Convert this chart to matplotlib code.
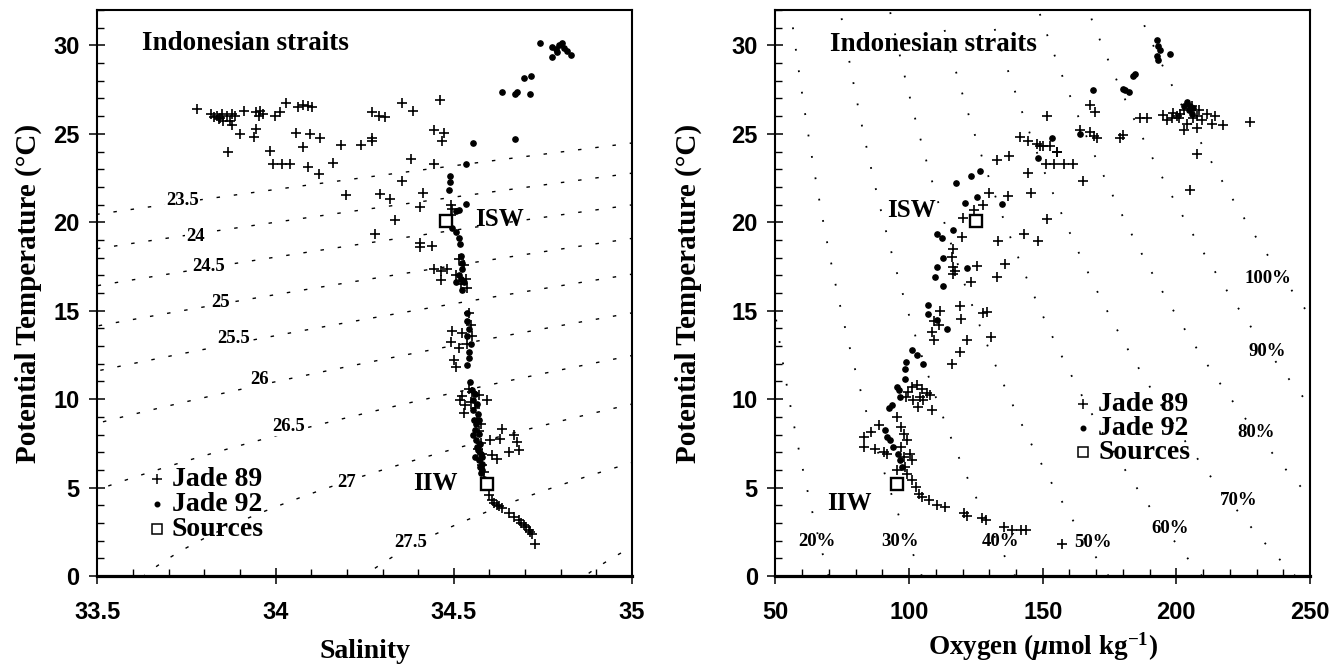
import numpy as np
import matplotlib
matplotlib.use("Agg")
import matplotlib.pyplot as plt
from matplotlib.ticker import MultipleLocator

# ---- data ---------------------------------------------------------------
# T-S panel, Jade 89 (+): salinity, potential temperature
ts89_s = [33.780, 33.818, 33.835, 33.849, 33.863, 33.877, 33.886, 33.840, 33.853, 33.872,
          33.877, 33.845, 33.828, 33.912, 33.944, 33.956, 33.966, 33.952, 33.999, 34.011,
          34.030, 34.064, 34.078, 34.092, 34.102, 33.900, 33.944, 33.940, 33.865, 33.985,
          33.994, 34.017, 34.041, 34.058, 34.097, 34.125, 34.076, 34.092, 34.123, 34.161,
          34.183, 34.239, 34.270, 34.270, 34.270, 34.289, 34.307, 34.354, 34.385, 34.380,
          34.354, 34.198, 34.292, 34.322, 34.336, 34.413, 34.406, 34.279, 34.406, 34.406,
          34.461, 34.444, 34.472, 34.467, 34.444, 34.491, 34.495, 34.491, 34.439, 34.444,
          34.463, 34.481, 34.463, 34.514, 34.528, 34.507, 34.533, 34.537, 34.519, 34.495,
          34.491, 34.505, 34.514, 34.523, 34.542, 34.547, 34.551, 34.537, 34.500, 34.542,
          34.551, 34.523, 34.547, 34.518, 34.570, 34.593, 34.528, 34.532, 34.635, 34.631,
          34.668, 34.678, 34.682, 34.654, 34.607, 34.621, 34.603, 34.560, 34.565, 34.570,
          34.575, 34.578, 34.580, 34.585, 34.575, 34.568, 34.598, 34.607, 34.621, 34.635,
          34.654, 34.668, 34.682, 34.696, 34.710, 34.720, 34.729, 34.689, 34.703, 34.715,
          34.628, 34.614]
ts89_t = [26.39, 26.11, 26.02, 26.11, 26.02, 26.11, 26.02, 25.83, 25.73, 25.73,
          25.51, 25.92, 25.95, 26.30, 26.21, 26.30, 26.11, 26.02, 26.02, 26.21,
          26.77, 26.51, 26.63, 26.57, 26.51, 24.98, 25.30, 24.83, 23.95, 24.04,
          23.29, 23.29, 23.29, 25.03, 25.01, 24.79, 24.23, 23.10, 22.72, 23.33,
          24.38, 24.38, 24.79, 24.60, 26.26, 26.02, 25.96, 26.77, 26.30, 23.57,
          22.35, 21.54, 21.60, 21.31, 20.15, 21.64, 20.88, 19.34, 18.81, 18.59,
          26.90, 25.21, 25.05, 24.58, 23.31, 20.99, 20.76, 20.42, 18.67, 17.36,
          17.25, 17.36, 16.71, 17.90, 17.58, 17.03, 16.81, 16.27, 16.49, 13.87,
          13.22, 11.80, 12.89, 13.76, 14.85, 14.20, 13.55, 13.11, 12.24, 10.60,
          10.39, 10.17, 9.84, 9.93, 10.21, 9.93, 9.20, 9.65, 8.33, 7.77,
          7.96, 7.58, 7.11, 7.01, 6.83, 6.64, 7.67, 9.50, 8.90, 8.20,
          7.50, 6.90, 6.30, 5.90, 8.60, 7.20, 4.57, 4.29, 4.01, 3.82,
          3.54, 3.35, 3.16, 2.88, 2.60, 2.37, 1.81, 3.00, 2.75, 2.50,
          3.95, 4.15]

# T-S panel, Jade 92 (dots)
ts92_s = [34.743, 34.776, 34.786, 34.795, 34.809, 34.818, 34.828, 34.776, 34.790, 34.804,
          34.697, 34.717, 34.636, 34.678, 34.673, 34.715, 34.673, 34.554, 34.533, 34.489,
          34.489, 34.486, 34.505, 34.514, 34.533, 34.495, 34.505, 34.514, 34.517, 34.519,
          34.523, 34.523, 34.514, 34.519, 34.528, 34.505, 34.523, 34.537, 34.537, 34.542,
          34.537, 34.547, 34.542, 34.542, 34.537, 34.546, 34.551, 34.555, 34.553, 34.557,
          34.560, 34.563, 34.567, 34.570, 34.573, 34.576, 34.584, 34.560, 34.565, 34.567,
          34.563, 34.570, 34.573, 34.575, 34.578, 34.580, 34.555, 34.565, 34.560, 34.580,
          34.570]
ts92_t = [30.14, 29.90, 29.79, 30.02, 29.84, 29.68, 29.44, 29.33, 29.60, 30.14,
          28.17, 28.29, 27.36, 27.36, 27.24, 27.24, 24.70, 24.47, 23.31, 22.61,
          22.27, 21.80, 20.65, 20.72, 21.06, 19.65, 19.43, 19.10, 18.77, 18.12,
          17.69, 17.36, 17.03, 16.81, 16.60, 16.60, 16.16, 14.85, 14.42, 13.98,
          13.55, 13.11, 12.67, 12.35, 11.91, 10.97, 10.50, 9.93, 9.37, 8.80,
          8.24, 7.67, 7.11, 6.55, 6.17, 5.80, 5.51, 10.31, 9.74, 9.18,
          8.62, 8.05, 7.49, 6.92, 6.36, 5.98, 7.96, 7.30, 6.73, 6.73,
          8.80]

# T-O2 panel, Jade 89 (+): oxygen (umol/kg), potential temperature
to89_o = [151.5, 141.4, 144.6, 147.7, 150.2, 155.2, 132.9, 137.5, 144.6, 151.5,
          130.0, 136.9, 145.6, 148.1, 143.1, 127.8, 124.3, 120.3, 119.7, 133.4,
          135.9, 132.8, 116.3, 115.9, 116.6, 116.6, 117.2, 125.5, 123.1, 119.0,
          119.6, 129.0, 127.8, 111.6, 109.2, 108.6, 111.0, 130.7, 119.0, 115.9,
          109.2, 121.5, 100.9, 102.8, 104.9, 106.8, 99.0, 101.5, 103.4, 105.3,
          107.7, 99.6, 103.9, 108.5, 88.7, 85.6, 83.1, 83.1, 87.4, 90.5,
          91.8, 95.5, 96.8, 98.0, 99.3, 96.8, 100.5, 98.0, 98.6, 99.3,
          95.5, 101.2, 101.2, 102.4, 103.7, 104.9, 107.4, 110.5, 113.6, 120.5,
          121.7, 127.4, 128.6, 135.5, 138.6, 141.7, 143.6, 157.1, 149.0, 152.7,
          155.4, 151.2, 154.3, 158.0, 161.2, 165.2, 167.7, 169.6, 163.9, 167.7,
          169.0, 170.2, 178.9, 180.1, 186.4, 188.9, 194.9, 196.4, 198.3, 200.2,
          201.4, 207.6, 211.4, 214.5, 217.6, 227.6, 202.7, 207.6, 207.6, 205.2,
          200.8, 198.9, 203.9, 206.4, 209.5, 213.3, 205.8, 208.3, 202.7]
to89_t = [26.02, 24.80, 24.60, 24.40, 24.30, 24.00, 23.50, 23.75, 22.76, 20.18,
          21.63, 21.50, 21.63, 18.94, 19.33, 20.98, 20.67, 20.22, 19.14, 18.94,
          17.62, 16.91, 18.50, 18.06, 17.46, 17.08, 17.23, 17.55, 16.61, 15.24,
          14.54, 14.92, 14.88, 15.00, 14.40, 13.80, 14.20, 13.50, 12.66, 11.96,
          13.32, 13.32, 10.70, 10.78, 10.60, 10.33, 10.12, 9.93, 9.55, 9.93,
          10.22, 10.40, 10.12, 9.40, 8.52, 8.14, 7.86, 7.29, 7.20, 7.02,
          6.92, 8.99, 8.42, 8.05, 7.67, 7.29, 6.92, 6.73, 6.17, 5.79,
          5.98, 6.55, 5.41, 5.04, 4.66, 4.48, 4.29, 4.01, 3.91, 3.54,
          3.39, 3.26, 3.16, 2.79, 2.60, 2.60, 2.60, 1.80, 24.30, 24.30,
          23.99, 23.31, 23.31, 23.31, 23.31, 22.36, 26.64, 26.24, 25.23, 25.11,
          24.89, 24.77, 24.77, 24.93, 25.90, 25.90, 26.06, 25.79, 25.90, 26.01,
          26.13, 26.01, 26.13, 26.01, 25.52, 25.68, 25.23, 25.34, 23.87, 21.85,
          25.90, 26.20, 25.56, 25.90, 25.79, 25.56, 26.58, 26.35, 26.35]

# T-O2 panel, Jade 92 (dots)
to92_o = [192.6, 193.2, 193.8, 192.8, 197.6, 193.2, 184.5, 183.6, 180.8, 182.1,
          179.9, 168.7, 163.9, 153.3, 148.3, 126.5, 123.0, 117.5, 125.5, 120.9,
          134.6, 116.6, 110.3, 112.2, 112.6, 110.5, 109.7, 112.8, 121.5, 107.2,
          107.2, 110.3, 114.1, 100.9, 102.8, 105.1, 99.0, 98.4, 98.4, 95.3,
          96.3, 96.5, 93.5, 92.6, 91.0, 91.6, 92.9, 94.1, 96.0, 96.6,
          97.2, 203.9, 205.2, 204.6, 206.4, 202.7, 205.8]
to92_t = [30.29, 29.95, 29.73, 29.39, 29.50, 29.17, 28.38, 28.27, 27.48, 27.36,
          27.55, 27.48, 25.00, 24.75, 23.66, 22.90, 22.63, 22.20, 21.45, 21.09,
          21.03, 19.56, 19.33, 19.10, 17.96, 17.49, 16.88, 16.41, 17.40, 15.30,
          14.80, 14.47, 13.97, 12.79, 12.47, 11.97, 12.10, 11.72, 11.15, 10.68,
          10.49, 10.12, 9.65, 9.50, 8.23, 7.86, 7.67, 7.29, 6.92, 6.54,
          6.17, 26.80, 26.58, 26.35, 26.46, 26.58, 26.13]

# source water types: ISW, IIW
src_names = ["ISW", "IIW"]
src_s = [34.479, 34.593]
src_o = [124.9, 95.4]
src_t = [20.05, 5.20]

sigma_levels = [23.5, 24.0, 24.5, 25.0, 25.5, 26.0, 26.5, 27.0, 27.5, 28.0]
sigma_labels = ["23.5", "24", "24.5", "25", "25.5", "26", "26.5", "27", "27.5"]
sat_levels = [0.2, 0.3, 0.4, 0.5, 0.6, 0.7, 0.8, 0.9, 1.0]
sat_labels = ["20%", "30%", "40%", "50%", "60%", "70%", "80%", "90%", "100%"]

SERIF = ["Liberation Serif", "DejaVu Serif"]
SANS = ["Liberation Sans", "DejaVu Sans"]
plt.rcParams["mathtext.fontset"] = "custom"
plt.rcParams["mathtext.rm"] = "Liberation Serif:bold"
plt.rcParams["mathtext.it"] = "Liberation Serif:italic:bold"
plt.rcParams["mathtext.bf"] = "Liberation Serif:bold"


def sigma0(s, t):
    """EOS-80 density anomaly at the surface."""
    rw = (999.842594 + 6.793952e-2 * t - 9.095290e-3 * t**2 + 1.001685e-4 * t**3
          - 1.120083e-6 * t**4 + 6.536332e-9 * t**5)
    a = 8.24493e-1 - 4.0899e-3 * t + 7.6438e-5 * t**2 - 8.2467e-7 * t**3 + 5.3875e-9 * t**4
    b = -5.72466e-3 + 1.0227e-4 * t - 1.6546e-6 * t**2
    return rw + a * s + b * s**1.5 + 4.8314e-4 * s**2 - 1000.0


def o2sat(t, s=34.5):
    """Garcia & Gordon (1992) oxygen solubility, umol/kg."""
    ts = np.log((298.15 - t) / (273.15 + t))
    lnc = (5.80871 + 3.20291 * ts + 4.17887 * ts**2 + 5.10006 * ts**3
           - 9.86643e-2 * ts**4 + 3.80369 * ts**5
           + s * (-7.01577e-3 - 7.70028e-3 * ts - 1.13864e-2 * ts**2 - 9.51519e-3 * ts**3)
           - 2.75915e-7 * s**2)
    return np.exp(lnc)


def style_axes(ax):
    ax.set_ylim(0, 32)
    ax.yaxis.set_major_locator(MultipleLocator(5))
    ax.yaxis.set_minor_locator(MultipleLocator(1))
    ax.tick_params(which="major", direction="inout", length=11.5, width=1.1, pad=7,
                   labelsize=17)
    ax.tick_params(axis="x", which="major", pad=12)
    ax.tick_params(which="minor", direction="in", length=5, width=1.0)
    for lab in ax.get_xticklabels() + ax.get_yticklabels():
        lab.set_family(SANS)
        lab.set_fontweight("bold")
    for side in ("top", "left", "right"):
        ax.spines[side].set_linewidth(1.5)
    ax.spines["bottom"].set_linewidth(2.3)
    ax.set_ylabel("Potential Temperature (°C)", family=SERIF, fontweight="bold", fontsize=21)


def legend_block(ax, x, y0, dy, xt):
    rows = [("+", 6.5, "black", "Jade 89"), ("o", 3.2, "black", "Jade 92"),
            ("s", 7.5, "white", "Sources")]
    for i, (m, ms, fc, lab) in enumerate(rows):
        y = y0 - i * dy
        ax.plot([x], [y], marker=m, ms=ms, mfc=fc, mec="black", mew=1.1, ls="none",
                color="black", clip_on=False)
        ax.text(xt, y, lab, family=SERIF, fontweight="bold", fontsize=20,
                ha="left", va="center")


fig = plt.figure(figsize=(13.44, 6.67), dpi=100)
ax1 = fig.add_axes([0.0725, 0.1364, 0.3977, 0.8486])
ax2 = fig.add_axes([0.577, 0.1364, 0.3977, 0.8486])

# ---- left: theta-S ----------------------------------------------------------
ss, tt = np.meshgrid(np.linspace(33.4, 35.1, 300), np.linspace(-1, 33, 300))
ax1.contour(ss, tt, sigma0(ss, tt), levels=sigma_levels, colors="black",
            linewidths=1.0, linestyles=[(0, (2.5, 10))])
lab_pos = [(33.739, 21.22), (33.774, 19.19), (33.811, 17.49), (33.846, 15.48),
           (33.883, 13.41), (33.954, 11.10), (34.037, 8.46), (34.198, 5.27),
           (34.379, 1.88)]
for (x, y), lab in zip(lab_pos, sigma_labels):
    ax1.text(x, y, lab, family=SERIF, fontweight="bold", fontsize=13.5, ha="center",
             va="center", bbox=dict(fc="white", ec="none", pad=0.5))
ax1.plot(ts89_s, ts89_t, ls="none", marker="+", ms=7, mew=1.2, color="black")
ax1.plot(ts92_s, ts92_t, ls="none", marker="o", ms=3.8, color="black")
ax1.plot(src_s, src_t, ls="none", marker="s", ms=8.5, mfc="white", mec="black", mew=1.7)
ax1.text(34.56, 20.15, src_names[0], family=SERIF, fontweight="bold", fontsize=18,
         ha="left", va="center")
ax1.text(34.386, 5.25, src_names[1], family=SERIF, fontweight="bold", fontsize=18,
         ha="left", va="center")
ax1.text(33.625, 30.08, "Indonesian straits", family=SERIF, fontweight="bold",
         fontsize=19.5, ha="left", va="center")
legend_block(ax1, 33.668, 5.47, 1.41, 33.709)
ax1.set_xlim(33.5, 35)
ax1.set_xticks([33.5, 34, 34.5, 35])
ax1.set_xticklabels(["33.5", "34", "34.5", "35"])
ax1.xaxis.set_minor_locator(MultipleLocator(0.1))
ax1.set_xlabel("Salinity", family=SERIF, fontweight="bold", fontsize=20)
style_axes(ax1)
ax1.xaxis.set_label_coords(0.5, -0.112)
ax1.yaxis.set_label_coords(-0.104, 0.5)

# ---- right: theta-O2 ----------------------------------------------------------
tline = np.linspace(0, 32, 200)
for p in sat_levels:
    ax2.plot(p * o2sat(tline), tline, color="black", lw=1.3, ls=(0, (1, 11)))
sat_pos = [(65.4, 1.94), (96.6, 1.94), (134.3, 1.94), (168.6, 1.87), (197.6, 2.70),
           (223.4, 4.28), (229.7, 8.10), (234.1, 12.70), (234.1, 16.80)]
for (x, y), lab in zip(sat_pos, sat_labels):
    ax2.text(x, y, lab, family=SERIF, fontweight="bold", fontsize=13.5, ha="center",
             va="center")
ax2.plot(to89_o, to89_t, ls="none", marker="+", ms=7, mew=1.2, color="black")
ax2.plot(to92_o, to92_t, ls="none", marker="o", ms=3.8, color="black")
ax2.plot(src_o, src_t, ls="none", marker="s", ms=8.5, mfc="white", mec="black", mew=1.7)
ax2.text(91.6, 20.65, src_names[0], family=SERIF, fontweight="bold", fontsize=18,
         ha="left", va="center")
ax2.text(69.2, 4.1, src_names[1], family=SERIF, fontweight="bold", fontsize=18,
         ha="left", va="center")
ax2.text(70.4, 30.06, "Indonesian straits", family=SERIF, fontweight="bold",
         fontsize=19.5, ha="left", va="center")
legend_block(ax2, 165.2, 9.7, 1.35, 170.7)
ax2.set_xlim(50, 250)
ax2.xaxis.set_major_locator(MultipleLocator(50))
ax2.xaxis.set_minor_locator(MultipleLocator(10))
ax2.set_xlabel(r"Oxygen ($\mu$mol kg$^{-1}$)", family=SERIF, fontweight="bold", fontsize=19.5)
style_axes(ax2)
ax2.xaxis.set_label_coords(0.5, -0.097)
ax2.yaxis.set_label_coords(-0.138, 0.5)

fig.savefig("out.png", dpi=100, facecolor="white")
